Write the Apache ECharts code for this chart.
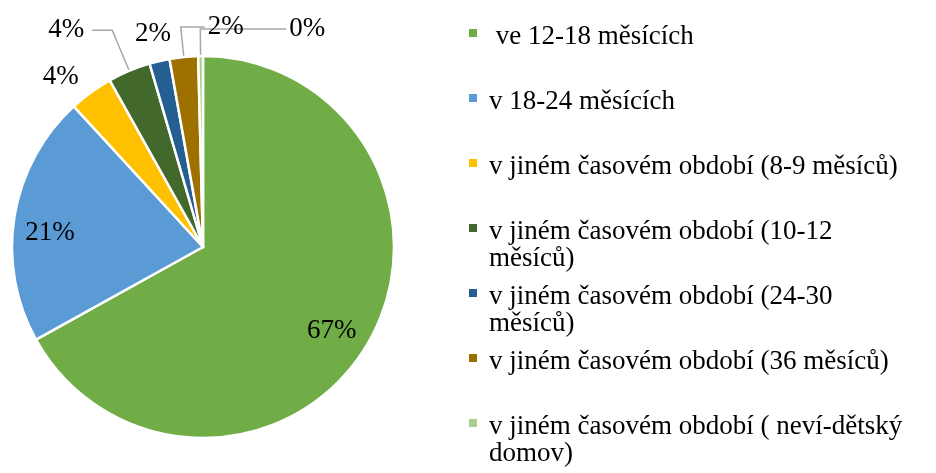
<!DOCTYPE html>
<html>
<head>
<meta charset="utf-8">
<script src="https://cdn.jsdelivr.net/npm/echarts@6/dist/echarts.min.js"></script>
<style>
	html, body { margin: 0; padding: 0; background: #ffffff; }
	#chart { width: 936px; height: 473px; }
</style>
</head>
<body>
<div id="chart"></div>
<script>
var categories = [
	' ve 12-18 měsících',
	'v 18-24 měsících',
	'v jiném časovém období (8-9 měsíců)',
	'v jiném časovém období (10-12 měsíců)',
	'v jiném časovém období (24-30 měsíců)',
	'v jiném časovém období (36 měsíců)',
	'v jiném časovém období ( neví-dětský domov)'
];
var shares = [66.8, 21.2, 3.7, 3.6, 1.7, 2.4, 0.4];

var sliceColors = ['#70AD47', '#5B9BD5', '#FFC000', '#43682B', '#255E91', '#9E7000', '#A9D18E'];

var fontFamily = '"Liberation Serif", "Times New Roman", serif';
var fontSize = 27;
var lineH = 27;
var wrapWidth = 424;

// how each percentage label is placed
// inside: centred in the slice, rim: centred just past the edge,
// left / right: on a leader line going that way
var labelPlacing = {
	0: { mode: 'inside', length: -38, dx: -3, dy: 6 },
	1: { mode: 'inside', length: -38, dx: -2, dy: 10 },
	2: { mode: 'rim', length: 33, dx: -11, dy: 11 },
	3: { mode: 'left', length: 44, length2: 20 },
	4: { mode: 'rim', length: 28 },
	5: { mode: 'right', length: 30, length2: 24 },
	6: { mode: 'right', length: 27, length2: 86 }
};

function wrapText(text) {
	var ctx = document.createElement('canvas').getContext('2d');
	ctx.font = fontSize + 'px ' + fontFamily;
	var words = text.split(' ');
	var lines = [];
	var cur = words[0];
	for (var i = 1; i < words.length; i++) {
		var test = cur + ' ' + words[i];
		if (ctx.measureText(test).width > wrapWidth) {
			lines.push(cur);
			cur = words[i];
		} else {
			cur = test;
		}
	}
	lines.push(cur);
	return lines;
}

var chart = echarts.init(document.getElementById('chart'), null, { renderer: 'canvas' });

var pieData = categories.map(function (name, i) {
	var pl = labelPlacing[i];
	var hidden = pl.mode === 'inside' || pl.mode === 'rim';
	return {
		name: name,
		value: shares[i],
		itemStyle: { color: sliceColors[i] },
		label: { distanceToLabelLine: pl.mode === 'left' ? 8 : 5 },
		labelLine: {
			show: true,
			length: pl.length,
			length2: pl.length2 || 0,
			lineStyle: hidden ? { opacity: 0 } : { color: '#A6A6A6', width: 1.5 }
		}
	};
});

// square sits a little above the text middle, like the original
var legendIcon = 'path://M0,0H10V10H0Z M0,18';

// one legend per entry so that a wrapped entry keeps its square on the first line
var legends = categories.map(function (name, i) {
	var lines = wrapText(name);
	var extra = lines.length - 1;
	return {
		data: [name],
		orient: 'vertical',
		left: 467,
		top: 23.5 + i * 65 - extra * lineH,
		padding: 0,
		icon: legendIcon,
		itemWidth: 10,
		itemHeight: 18,
		selectedMode: false,
		formatter: function () {
			// blank lines above keep the first real line level with the square
			return new Array(extra + 1).join('\n') + lines.join('\n');
		},
		textStyle: {
			fontFamily: fontFamily,
			fontSize: fontSize,
			lineHeight: lineH,
			color: '#000000',
			padding: [0, 0, 0, 6]
		}
	};
});

chart.setOption({
	animation: false,
	backgroundColor: '#ffffff',
	legend: legends,
	series: [{
		type: 'pie',
		center: [203, 247],
		radius: 191,
		startAngle: 90,
		clockwise: true,
		avoidLabelOverlap: false,
		emphasis: { disabled: true },
		itemStyle: { borderColor: '#ffffff', borderWidth: 2.5 },
		label: {
			position: 'outside',
			fontFamily: fontFamily,
			fontSize: fontSize,
			color: '#000000',
			formatter: function (p) { return Math.round(p.percent) + '%'; }
		},
		labelLayout: function (p) {
			var pl = labelPlacing[p.dataIndex];
			var pts = p.labelLinePoints;
			if (!pl || !pts) return {};
			if (pl.mode === 'inside' || pl.mode === 'rim') {
				return {
					x: pts[1][0] + (pl.dx || 0),
					y: pts[1][1] + (pl.dy || 0),
					align: 'center',
					verticalAlign: 'middle'
				};
			}
			if (pl.mode === 'right') {
				var reach = Math.abs(pts[2][0] - pts[1][0]);
				var endX = pts[1][0] + reach;
				return {
					x: endX + 3,
					y: pts[1][1],
					align: 'left',
					verticalAlign: 'middle',
					labelLinePoints: [pts[0], pts[1], [endX, pts[1][1]]]
				};
			}
			return {};
		},
		data: pieData
	}]
});
</script>
</body>
</html>
